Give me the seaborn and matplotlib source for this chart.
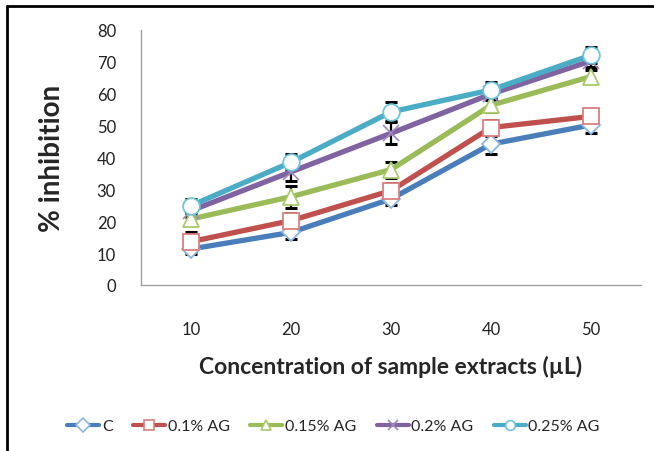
import matplotlib
matplotlib.use("Agg")
import matplotlib.pyplot as plt
import seaborn as sns
import pandas as pd
import numpy as np
from matplotlib.lines import Line2D

concentrations = ["10", "20", "30", "40", "50"]
series_names = ["C", "0.1% AG", "0.15% AG", "0.2% AG", "0.25% AG"]
c_vals = [11.3, 16.5, 27.0, 44.2, 50.2]
ag01_vals = [13.6, 20.2, 29.6, 49.4, 52.9]
ag015_vals = [20.7, 27.7, 36.2, 56.4, 65.4]
ag02_vals = [23.3, 35.5, 47.6, 59.9, 70.3]
ag025_vals = [24.9, 38.5, 54.3, 61.2, 72.1]
c_err = [1.5, 2.0, 2.0, 3.0, 2.5]
ag01_err = [3.0, 2.5, 2.5, 2.5, 1.0]
ag015_err = [2.0, 3.5, 2.5, 2.0, 2.0]
ag02_err = [2.0, 3.0, 3.5, 2.0, 2.0]
ag025_err = [2.0, 2.5, 3.0, 2.5, 2.5]

values = [c_vals, ag01_vals, ag015_vals, ag02_vals, ag025_vals]
errors = [c_err, ag01_err, ag015_err, ag02_err, ag025_err]
colors = ["#4A7EBB", "#C0504D", "#9BBB59", "#8064A2", "#4BACC6"]
edge_colors = ["#8EB4E3", "#D9807E", "#A9C96A", "#9F86C0", "#6FC3DA"]
markers = ["D", "s", "^", "x", "o"]
msizes = [9, 11, 11, 11, 12]

rows = []
for name, vals in zip(series_names, values):
    for i, v in enumerate(vals):
        rows.append({"series": name, "pos": i, "value": v})
df = pd.DataFrame(rows)

sns.set_style("white")
plt.rcParams['font.family'] = ['Lato', 'DejaVu Sans']

fig = plt.figure(figsize=(6.54, 4.52), dpi=100)
ax = fig.add_axes([141/654, 1-286/452, 500/654, 255/452])

xpos = np.arange(len(concentrations))
for k, name in enumerate(series_names):
    ax.errorbar(xpos, values[k], yerr=errors[k], fmt="none", ecolor="black",
                elinewidth=1.6, capsize=4, capthick=2.2, zorder=2)

for k, name in enumerate(series_names):
    sub = df[df["series"] == name]
    if markers[k] == "x":
        sns.lineplot(data=sub, x="pos", y="value", ax=ax, color=colors[k],
                     linewidth=3.8, marker="x", markersize=msizes[k],
                     markeredgecolor=edge_colors[k], markeredgewidth=1.2,
                     zorder=3 + k, legend=False)
    else:
        sns.lineplot(data=sub, x="pos", y="value", ax=ax, color=colors[k],
                     linewidth=3.8, marker=markers[k], markersize=msizes[k],
                     markerfacecolor="white", markeredgecolor=edge_colors[k],
                     markeredgewidth=1.3, zorder=3 + k, legend=False)

ax.set_xlim(-0.5, 4.5)
ax.set_ylim(0, 80)
ax.set_yticks(np.arange(0, 81, 10))
ax.set_xticks(xpos)
ax.set_xticklabels(concentrations)
ax.set_xticks(np.arange(-0.5, 4.6, 1), minor=True)
ax.tick_params(axis="x", which="major", length=0, pad=26, labelsize=12, labelcolor="#222222")
ax.tick_params(axis="x", which="minor", length=6, width=1, color="#A0A0A0", direction="out")
ax.tick_params(axis="y", which="major", length=5, width=1, color="#A0A0A0", direction="out",
               labelsize=12, labelcolor="#222222", pad=13)

for side in ["top", "right"]:
    ax.spines[side].set_visible(False)
for side in ["left", "bottom"]:
    ax.spines[side].set_color("#A0A0A0")
    ax.spines[side].set_linewidth(1)

ax.set_xlabel("Concentration of sample extracts (µL)", fontsize=16.5, fontweight="bold")
ax.set_ylabel("% inhibition", fontsize=20, fontweight="bold")
ax.xaxis.set_label_coords(0.5, -0.275)
ax.yaxis.set_label_coords(-0.152, 0.5)

handles = []
for k, name in enumerate(series_names):
    if markers[k] == "x":
        h = Line2D([], [], color=colors[k], linewidth=3.0, marker="x", markersize=7,
                   markeredgecolor=edge_colors[k], markeredgewidth=1.2)
    else:
        h = Line2D([], [], color=colors[k], linewidth=3.0, marker=markers[k], markersize=7,
                   markerfacecolor="white", markeredgecolor=edge_colors[k], markeredgewidth=1.2)
    handles.append(h)
fig.legend(handles, series_names, loc="center", bbox_to_anchor=(0.51, 1-427/452), ncol=5,
           frameon=False, fontsize=11.5, handlelength=2.0, columnspacing=1.3, handletextpad=0.15)

# figure border (top and left visible in reference)
fig.add_artist(Line2D([7/654, 1.0], [1-7/452, 1-7/452], transform=fig.transFigure, color="black", linewidth=2))
fig.add_artist(Line2D([7/654, 7/654], [0, 1-7/452], transform=fig.transFigure, color="black", linewidth=2))

fig.savefig("out.png", dpi=100)
